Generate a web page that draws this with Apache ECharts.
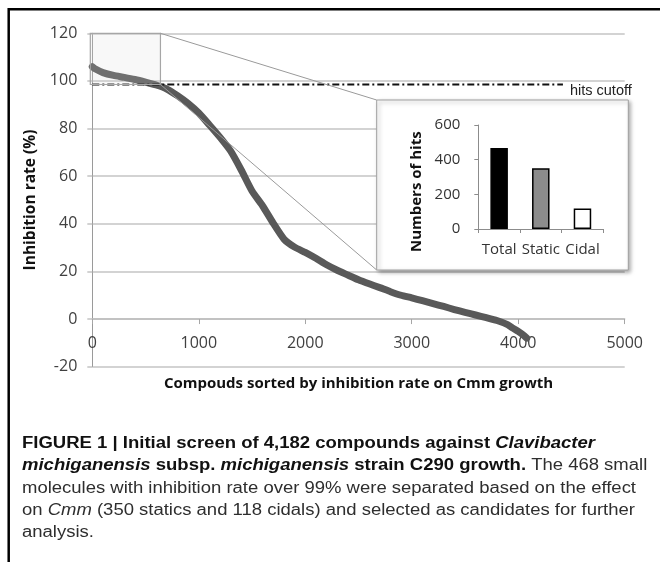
<!DOCTYPE html>
<html><head><meta charset="utf-8">
<script src="https://cdn.jsdelivr.net/npm/echarts@6/dist/echarts.min.js"></script>
<style>html,body{margin:0;padding:0;background:#fff}#c{width:660px;height:562px}</style>
</head><body><div id="c"></div>
<script>
// ---- data ----
const compoundRank = [0,30,100,200,300,400,500,600,700,800,900,1000,1100,1200,1300,1400,1500,1600,1700,1800,1900,2000,2100,2200,2300,2400,2500,2600,2700,2800,2900,3000,3100,3200,3300,3400,3500,3600,3700,3800,3900,3950,4000,4050,4080];
const inhibitionRate = [106,105,103.5,102.3,101.5,100.6,99.5,98.3,96.6,93.8,90.5,86.5,81.5,76.3,70.5,62.5,53.8,47.5,40.2,33.6,30.2,28,25.5,22.8,20.5,18.5,16.5,14.8,13.2,11.5,10,8.9,7.7,6.5,5.3,4,2.8,1.7,0.6,-0.6,-2.3,-3.8,-5.2,-6.8,-8];
const hitsCutoff = 98.5;
const cutoffRange = [0, 4420];
const zoomBoxX = [0, 640];
const zoomBoxY = [98.5, 120];
const hitCategories = ['Total','Static','Cidal'];
const hitCounts = [468, 350, 118];
const hitColors = ['#000000', '#8c8c8c', '#ffffff'];

const xTitle = 'Compouds sorted by inhibition rate on Cmm growth';
const yTitle = 'Inhibition rate (%)';
const insetTitle = 'Numbers of hits';
// caption: [style, text] segments per line (b bold, bi bold italic, r regular, i italic)
const captionLines = [
  [['b', 'FIGURE 1 | Initial screen of 4,182 compounds against '], ['bi', 'Clavibacter']],
  [['bi', 'michiganensis'], ['b', ' subsp. '], ['bi', 'michiganensis'], ['b', ' strain C290 growth.'], ['r', ' The 468 small']],
  [['r', 'molecules with inhibition rate over 99% were separated based on the effect']],
  [['r', 'on '], ['i', 'Cmm'], ['r', ' (350 statics and 118 cidals) and selected as candidates for further']],
  [['r', 'analysis.']]
];

// ---- layout ----
const FONT = 'Open Sans';
const CAP_FONT = 'Liberation Sans';
const inset = {x: 376.7, y: 100, w: 251.6, h: 170};
const mainGrid = {left: 92.3, right: 35.3, top: 33.3, bottom: 195.3};
const yMin = -20, yMax = 120;
const plotH = 562 - mainGrid.top - mainGrid.bottom;
const zeroOffset = -plotH * (0 - yMin) / (yMax - yMin); // lift x axis to the zero line

const chart = echarts.init(document.getElementById('c'), null, {renderer: 'canvas'});
const curve = compoundRank.map((x, i) => [x, inhibitionRate[i]]);

chart.setOption({
  animation: false,
  grid: [
    mainGrid,
    {left: 478.3, right: 56.7, top: 125, height: 104}
  ],
  xAxis: [
    {type: 'value', gridIndex: 0, min: 0, max: 5000, interval: 1000, offset: zeroOffset,
     axisLine: {onZero: false, lineStyle: {color: '#bdbdbd', width: 1.5}},
     axisTick: {show: true, length: 5, lineStyle: {color: '#a6a6a6'}},
     axisLabel: {margin: 16, fontSize: 16, fontFamily: FONT, color: '#404040', formatter: v => String(v)},
     splitLine: {show: false},
     name: xTitle, nameLocation: 'middle', nameGap: 57,
     nameTextStyle: {fontSize: 15, fontWeight: 'bold', fontFamily: FONT, color: '#111'}},
    {type: 'category', gridIndex: 1, data: hitCategories, z: 10,
     axisLine: {lineStyle: {color: '#8c8c8c', width: 1}},
     axisTick: {show: true, length: 4, alignWithLabel: false, lineStyle: {color: '#8c8c8c'}},
     axisLabel: {margin: 13, interval: 0, fontSize: 15, fontFamily: FONT, color: '#333'},
     splitLine: {show: false}}
  ],
  yAxis: [
    {type: 'value', gridIndex: 0, min: yMin, max: yMax, interval: 20,
     axisLine: {show: true, onZero: false, lineStyle: {color: '#9a9a9a', width: 1}},
     axisTick: {show: true, length: 5, lineStyle: {color: '#c4c4c4', width: 1.5}},
     axisLabel: {margin: 15, fontSize: 16, fontFamily: FONT, color: '#404040'},
     splitLine: {show: true, lineStyle: {color: '#c4c4c4', width: 1.5}},
     name: yTitle, nameLocation: 'middle', nameGap: 50,
     nameTextStyle: {fontSize: 15.5, fontWeight: 'bold', fontFamily: FONT, color: '#111'}},
    {type: 'value', gridIndex: 1, min: 0, max: 600, interval: 200, z: 10,
     axisLine: {show: true, lineStyle: {color: '#8c8c8c', width: 1}},
     axisTick: {show: true, length: 4, lineStyle: {color: '#8c8c8c'}},
     axisLabel: {margin: 18, fontSize: 15, fontFamily: FONT, color: '#333'},
     splitLine: {show: false}}
  ],
  series: [
    {type: 'line', xAxisIndex: 0, yAxisIndex: 0, data: curve, symbol: 'none',
     smooth: 0.2, z: 2,
     lineStyle: {color: '#595959', width: 7, cap: 'round', join: 'round'}},
    {type: 'line', xAxisIndex: 0, yAxisIndex: 0,
     data: [[cutoffRange[0], hitsCutoff], [cutoffRange[1], hitsCutoff]],
     symbol: 'none', z: 3,
     lineStyle: {color: '#111', width: 1.8, type: [7, 3, 2, 3]}},
    {type: 'bar', xAxisIndex: 1, yAxisIndex: 1, z: 11, barWidth: '42%',
     data: hitCounts.map((v, i) => ({value: v,
       itemStyle: {color: hitColors[i], borderColor: '#000', borderWidth: 1.5}}))}
  ]
});

// overlay elements positioned through the main grid's scales
const p = (x, y) => chart.convertToPixel({gridIndex: 0}, [x, y]);
const boxTL = p(zoomBoxX[0], zoomBoxY[1]);
const boxBR = p(zoomBoxX[1], zoomBoxY[0]);
const cutEnd = p(cutoffRange[1], hitsCutoff);

// caption type: reference type emulated with horizontal scaling
const CAP_SIZE = 16;
const CAP_LEFT = 22;
const fontSpec = {
  r: {fontWeight: 'normal', fontStyle: 'normal', fill: '#2e2e2e'},
  i: {fontWeight: 'normal', fontStyle: 'italic', fill: '#2e2e2e'},
  b: {fontWeight: 'bold', fontStyle: 'normal', fill: '#111'},
  bi: {fontWeight: 'bold', fontStyle: 'italic', fill: '#111'}
};
const cv = document.createElement('canvas').getContext('2d');
const measure = (st, t) => {
  const f = fontSpec[st];
  cv.font = f.fontStyle + ' ' + f.fontWeight + ' ' + CAP_SIZE + 'px "' + CAP_FONT + '"';
  return cv.measureText(t).width;
};
const lineW = (segs) => segs.reduce((a, s) => a + measure(s[0], s[1]), 0);
const regScale = (636 - CAP_LEFT) / lineW(captionLines[2]);
const boldScale = (595 - CAP_LEFT) / lineW(captionLines[0]);
const scaleOf = st => (st === 'b' || st === 'bi') ? boldScale : regScale;
const capMid = [443.6, 465.8, 488.1, 510.3, 532.5];

const graphics = [
  // frame
  {type: 'line', z: 30, shape: {x1: 8, y1: 9.3, x2: 660, y2: 9.3}, style: {stroke: '#000', lineWidth: 2.5}},
  {type: 'line', z: 30, shape: {x1: 8.7, y1: 8, x2: 8.7, y2: 562}, style: {stroke: '#000', lineWidth: 2.5}},
  // zoom box
  {type: 'rect', z: 4, shape: {x: boxTL[0] - 2, y: boxTL[1], width: boxBR[0] - boxTL[0] + 2, height: boxBR[1] - boxTL[1]},
   style: {fill: 'rgba(215,215,215,0.18)', stroke: '#a6a6a6', lineWidth: 1.2}},
  // connectors
  {type: 'line', z: 4, shape: {x1: boxBR[0], y1: boxTL[1], x2: inset.x, y2: inset.y}, style: {stroke: '#9a9a9a', lineWidth: 1}},
  {type: 'line', z: 4, shape: {x1: boxBR[0], y1: boxBR[1], x2: inset.x, y2: inset.y + inset.h}, style: {stroke: '#9a9a9a', lineWidth: 1}},
  // hits cutoff label
  {type: 'text', z: 5, x: cutEnd[0] + 7, y: cutEnd[1] + 6,
   style: {text: 'hits cutoff', fontSize: 14.5, fontFamily: CAP_FONT, fill: '#222', align: 'left', verticalAlign: 'middle'}},
  // inset panel
  {type: 'rect', z: 6, shape: {x: inset.x, y: inset.y, width: inset.w, height: inset.h},
   style: {fill: '#fff', stroke: '#a0a0a0', lineWidth: 1, shadowBlur: 4, shadowOffsetX: 2, shadowOffsetY: 2, shadowColor: 'rgba(0,0,0,0.35)'}},
  {type: 'text', z: 12, x: 416.7, y: 191.7, rotation: Math.PI / 2,
   style: {text: insetTitle, fontSize: 15, fontWeight: 'bold', fontFamily: FONT, fill: '#111', align: 'center', verticalAlign: 'middle'}}
];
captionLines.forEach((segs, i) => {
  let x = CAP_LEFT;
  segs.forEach(([st, t]) => {
    const f = fontSpec[st];
    const sc = scaleOf(st);
    graphics.push({type: 'text', z: 20, x: x, y: capMid[i], scaleX: sc,
      style: {text: t, fontSize: CAP_SIZE, fontFamily: CAP_FONT, fontWeight: f.fontWeight, fontStyle: f.fontStyle,
              fill: f.fill, align: 'left', verticalAlign: 'middle'}});
    x += measure(st, t) * sc;
  });
});
chart.setOption({graphic: graphics});
</script></body></html>
